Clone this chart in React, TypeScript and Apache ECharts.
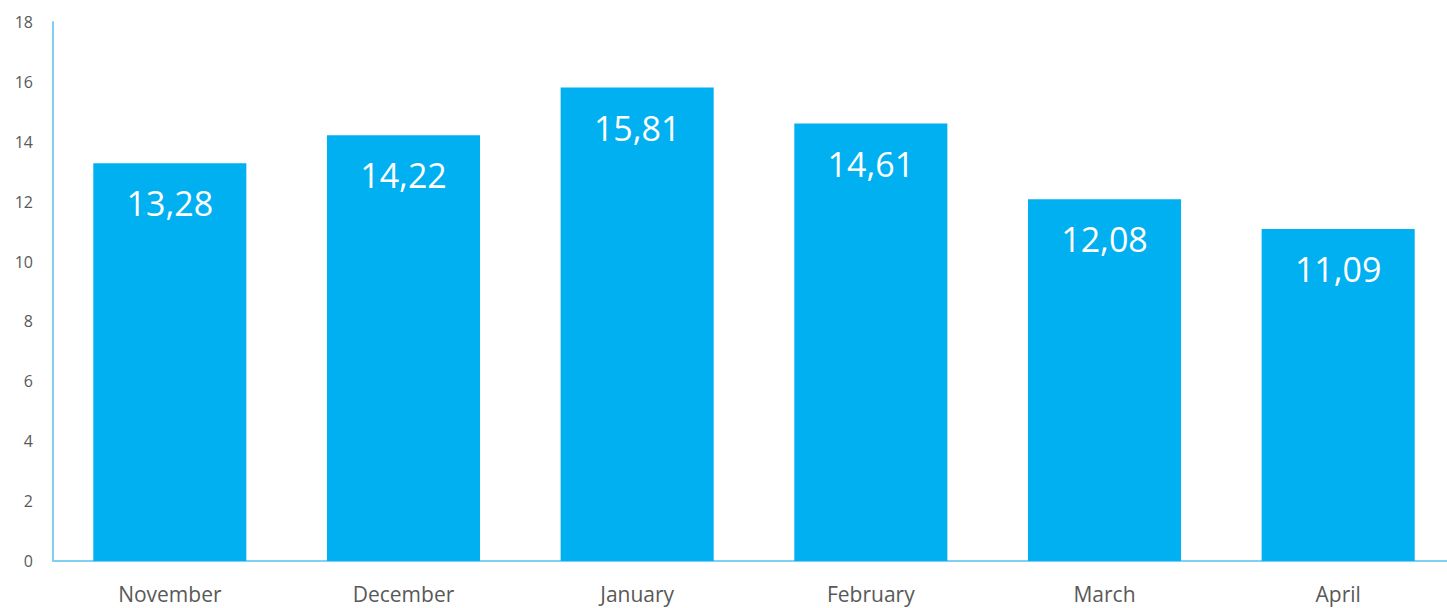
import React, { useEffect, useRef } from "react";
import * as echarts from "echarts";

const categories = ["November", "December", "January", "February", "March", "April"];
const values = [13.28, 14.22, 15.81, 14.61, 12.08, 11.09];
const yTicks = [0, 2, 4, 6, 8, 10, 12, 14, 16, 18];

export default function App() {
  const ref = useRef<HTMLDivElement>(null);
  useEffect(() => {
    if (!ref.current) return;
    const chart = echarts.init(ref.current, null, { renderer: "svg" });
    chart.setOption({
      animation: false,
      grid: { left: 53, right: 0, top: 22, bottom: 47, containLabel: false },
      xAxis: {
        type: "category",
        data: categories,
        axisLine: { lineStyle: { color: "#7fd0f2", width: 2 } },
        axisTick: { show: false },
        axisLabel: { color: "#595959", fontSize: 21, fontFamily: "Open Sans", margin: 22 },
      },
      yAxis: {
        type: "value",
        min: yTicks[0],
        max: yTicks[yTicks.length - 1],
        interval: 2,
        axisLine: { show: true, lineStyle: { color: "#7fd0f2", width: 2 } },
        axisTick: { show: false },
        splitLine: { show: false },
        axisLabel: { color: "#595959", fontSize: 16, fontFamily: "Open Sans", margin: 20 },
      },
      series: [
        {
          type: "bar",
          data: values,
          barCategoryGap: "34.5%",
          itemStyle: { color: "#00b0f0" },
          label: {
            show: true,
            position: "insideTop",
            distance: 23,
            color: "#ffffff",
            fontSize: 34,
            fontFamily: "Open Sans",
            formatter: (p: any) => Number(p.value).toFixed(2).replace(".", ","),
          },
        },
      ],
    });
    return () => chart.dispose();
  }, []);
  return (
    <div
      style={{
        position: "fixed",
        left: 0,
        top: 0,
        width: 1447,
        height: 608,
        overflow: "hidden",
        background: "#fff",
      }}
    >
      <div ref={ref} style={{ width: 1455, height: 608 }} />
    </div>
  );
}
